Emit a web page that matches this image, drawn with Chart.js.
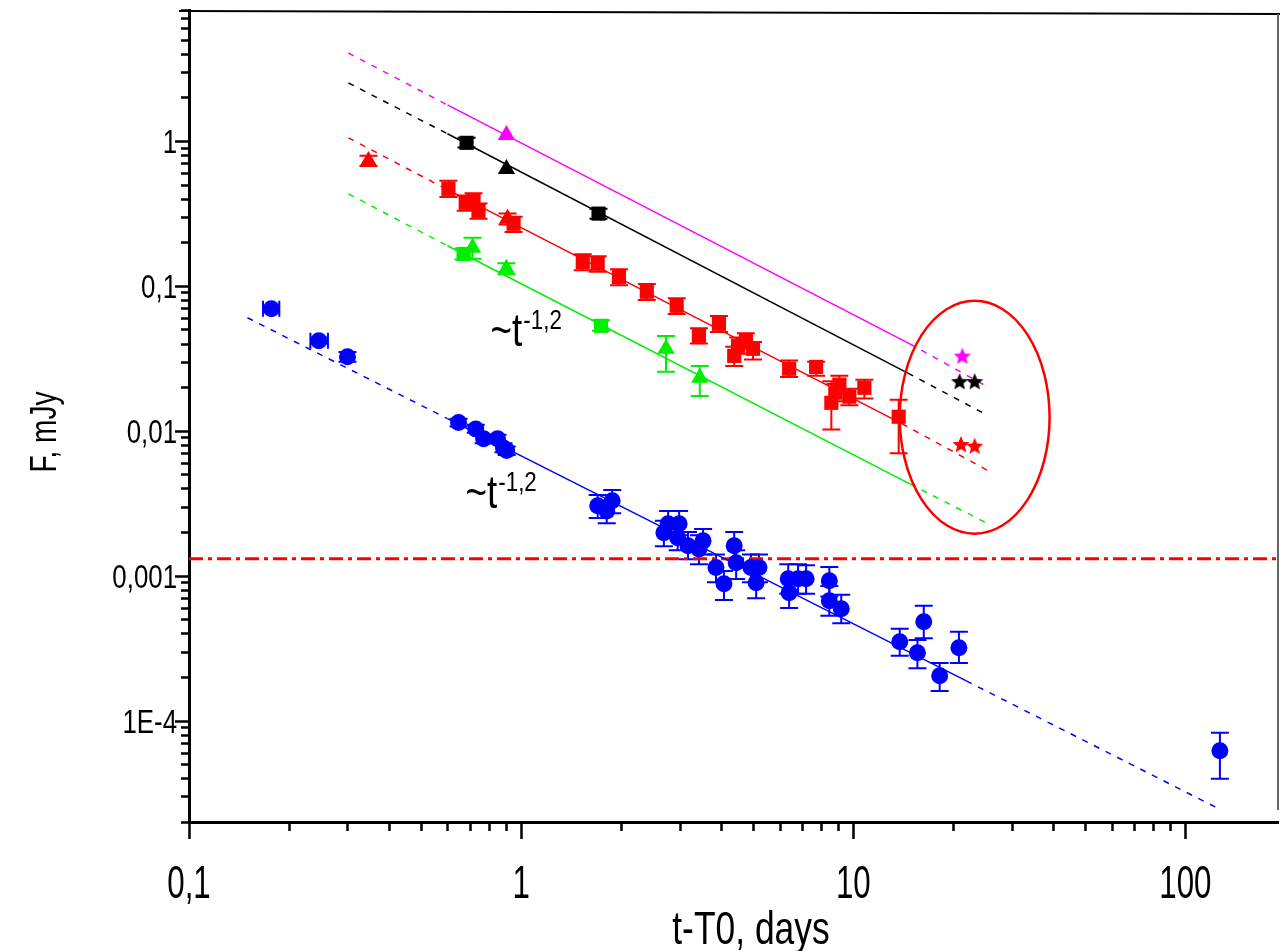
<!DOCTYPE html>
<html>
<head>
<meta charset="utf-8">
<script src="https://cdn.jsdelivr.net/npm/chart.js@4.4.1/dist/chart.umd.min.js"></script>
<style>
	html, body { margin: 0; padding: 0; background: #fff; overflow: hidden; }
	#wrap { width: 1280px; height: 951px; }
</style>
</head>
<body>
<div id="wrap"><canvas id="canvas"></canvas></div>
<script>
// t-T0 in days, F in mJy; lo / hi are the ends of the error bars
const blueX  = [0.177, 0.246, 0.300, 0.648, 0.730, 0.771, 0.849, 0.885, 0.905, 1.70, 1.81, 1.88, 2.69, 2.77, 2.99, 2.96, 3.18, 3.43, 3.53, 3.86, 4.08, 4.38, 4.44, 4.92, 5.10, 5.20, 6.37, 6.41, 6.82, 7.21, 8.47, 8.47, 9.2, 13.8, 15.6, 16.3, 18.2, 20.8, 127];
const blueY  = [0.0694, 0.0418, 0.0324, 0.0114, 0.0103, 0.0088, 0.0088, 0.0076, 0.0073, 0.00304, 0.0028, 0.00329, 0.00198, 0.00228, 0.00228, 0.00183, 0.00161, 0.00153, 0.00174, 0.00114, 0.00088, 0.00161, 0.00123, 0.00114, 0.000895, 0.00114, 0.000953, 0.000764, 0.000953, 0.000953, 0.000924, 0.000673, 0.000592, 0.000351, 0.000294, 0.000482, 0.000204, 0.000319, 0.000062];
const blueLo = [0.066, 0.040, 0.030, 0.0107, 0.0097, 0.0082, 0.0082, 0.0071, 0.0068, 0.0025, 0.0023, 0.0027, 0.0016, 0.0019, 0.0019, 0.0015, 0.0013, 0.0012, 0.0014, 0.0009, 0.00068, 0.0013, 0.00095, 0.0009, 0.0007, 0.0009, 0.00075, 0.0006, 0.00075, 0.00075, 0.00072, 0.00053, 0.00047, 0.00028, 0.00023, 0.00037, 0.00016, 0.00025, 0.0000398];
const blueHi = [0.073, 0.044, 0.035, 0.0121, 0.011, 0.0094, 0.0094, 0.0082, 0.0078, 0.0036, 0.0033, 0.0039, 0.0024, 0.0028, 0.0028, 0.0022, 0.0020, 0.0019, 0.0021, 0.0014, 0.00108, 0.0020, 0.0015, 0.0014, 0.0011, 0.0014, 0.0012, 0.00095, 0.0012, 0.00118, 0.00115, 0.00085, 0.00074, 0.00043, 0.00036, 0.00062, 0.00025, 0.00041, 0.0000826];
const blueXLo = [0.167, 0.232];
const blueXHi = [0.187, 0.262];

const redSqX  = [0.604, 0.681, 0.719, 0.744, 0.949, 1.533, 1.70, 1.97, 2.39, 2.94, 3.43, 3.94, 4.38, 4.5, 4.75, 4.99, 6.41, 7.73, 8.59, 8.83, 9.08, 9.73, 10.8, 13.7];
const redSqY  = [0.467, 0.374, 0.386, 0.329, 0.268, 0.146, 0.142, 0.115, 0.091, 0.0728, 0.0452, 0.0547, 0.0329, 0.0386, 0.0418, 0.0368, 0.0268, 0.0276, 0.0156, 0.0183, 0.0208, 0.0172, 0.0198, 0.0125];
const redSqLo = [0.41, 0.33, 0.34, 0.29, 0.235, 0.128, 0.125, 0.101, 0.080, 0.064, 0.040, 0.048, 0.028, 0.034, 0.037, 0.031, 0.0235, 0.024, 0.0102, 0.016, 0.018, 0.015, 0.0167, 0.0070];
const redSqHi = [0.53, 0.42, 0.435, 0.37, 0.30, 0.165, 0.16, 0.13, 0.103, 0.082, 0.051, 0.062, 0.038, 0.044, 0.047, 0.041, 0.0305, 0.030, 0.022, 0.021, 0.024, 0.0195, 0.0225, 0.0164];
const redTriX = [0.347, 0.91];
const redTriY = [0.728, 0.29];
const redTriLo = [0.67, 0.265];
const redTriHi = [0.79, 0.315];
const redStarX = [21.1, 23.2];
const redStarY = [0.0081, 0.0079];

const greenSqX = [0.671, 1.74];
const greenSqY = [0.166, 0.053];
const greenSqLo = [0.152, 0.049];
const greenSqHi = [0.181, 0.058];
const greenTriX = [0.714, 0.903, 2.73, 3.45];
const greenTriY = [0.183, 0.131, 0.0368, 0.0232];
const greenTriLo = [0.154, 0.12, 0.0255, 0.0174];
const greenTriHi = [0.215, 0.143, 0.045, 0.028];

const blackSqX = [0.685, 1.71];
const blackSqY = [0.97, 0.315];
const blackSqLo = [0.9, 0.29];
const blackSqHi = [1.05, 0.34];
const blackTriX = [0.903];
const blackTriY = [0.64];
const blackStarX = [20.9, 23.2];
const blackStarY = [0.022, 0.022];

const magTriX = [0.903];
const magTriY = [1.1];
const magStarX = [21.3];
const magStarY = [0.033];

// power-law fits: dashed - solid - dashed, break points
const blueFitX = [0.15, 0.6, 21.9, 126];
const blueFitY = [0.0602, 0.01213, 0.000188, 0.0000247];
const redFitX = [0.302, 0.6, 14.0, 25.5];
const redFitY = [1.05, 0.461, 0.0112, 0.0053];
const greenFitX = [0.302, 0.6, 14.8, 25.5];
const greenFitY = [0.431, 0.189, 0.0043, 0.00228];
const blackFitX = [0.302, 0.6, 14.6, 25.2];
const blackFitY = [2.51, 1.12, 0.025, 0.0129];
const magFitX = [0.302, 0.6, 14.8, 24.8];
const magFitY = [4.04, 1.77, 0.0398, 0.0207];

const limitX = [0.1, 190];
const limitY = [0.00131, 0.00131];

const ellipseX = [13.8, 39];
const ellipseY = [0.00195, 0.0788];

const slopeText = ['~t', '-1,2'];
const slopeLabelX = [0.809, 0.680];
const slopeLabelY = [0.0386, 0.00294];

const xMajor = [0.1, 1, 10, 100];
const xTickLabels = ['0,1', '1', '10', '100'];
const yMajor = [0.0001, 0.001, 0.01, 0.1, 1];
const yTickLabels = ['1E-4', '0,001', '0,01', '0,1', '1'];
const xTitle = 't-T0, days';
const yTitle = 'F, mJy';

const FONT = "'Liberation Sans', Arial, sans-serif";

function pts(xs, ys, lo, hi, xlo, xhi) {
	return xs.map((x, i) => {
		const p = { x: x, y: ys[i] };
		if (lo && lo[i] !== undefined) { p.lo = lo[i]; p.hi = hi[i]; }
		if (xlo && xlo[i] !== undefined) { p.xlo = xlo[i]; p.xhi = xhi[i]; }
		return p;
	});
}

function starImage(color, r) {
	const c = document.createElement('canvas');
	const s = Math.ceil(r * 2 + 2);
	c.width = s;
	c.height = s;
	const g = c.getContext('2d');
	g.fillStyle = color;
	g.beginPath();
	for (let i = 0; i < 10; i++) {
		const rr = i % 2 ? r * 0.45 : r;
		const a = -Math.PI / 2 + i * Math.PI / 5;
		g.lineTo(s / 2 + rr * Math.cos(a), s / 2 + 1 + rr * Math.sin(a));
	}
	g.closePath();
	g.fill();
	return c;
}

function markers(data, color, style, radius) {
	return {
		type: 'scatter',
		data: data,
		order: 1,
		errorBars: true,
		errColor: color,
		pointStyle: style,
		pointRadius: radius,
		backgroundColor: color,
		borderColor: color,
		borderWidth: 0
	};
}

function fitLine(xs, ys, color, width, dash) {
	return {
		type: 'line',
		data: pts(xs, ys),
		order: 2,
		showLine: true,
		borderColor: color,
		borderWidth: width,
		pointRadius: 0,
		fill: false,
		borderDash: [],
		segment: {
			borderDash: ctx => (ctx.p0DataIndex === 1 ? [] : dash)
		}
	};
}

function logTicks(min, max) {
	const out = [];
	for (let e = Math.floor(Math.log10(min)); e <= Math.ceil(Math.log10(max)); e++) {
		for (let m = 1; m < 10; m++) {
			const v = +(m * Math.pow(10, e)).toPrecision(6);
			if (v >= min * 0.999 && v <= max * 1.001) out.push(v);
		}
	}
	return out;
}

function isMajor(v) {
	const l = Math.log10(v);
	return Math.abs(l - Math.round(l)) < 1e-6;
}

// the original uses a narrow face, so squeeze Liberation Sans sideways
function squeezedText(ctx, text, x, y, size, sx, align, rot) {
	ctx.save();
	ctx.translate(x, y);
	if (rot) ctx.rotate(rot);
	ctx.scale(sx, 1);
	ctx.font = size + 'px ' + FONT;
	ctx.textAlign = align;
	ctx.textBaseline = 'alphabetic';
	ctx.fillText(text, 0, 0);
	const w = ctx.measureText(text).width * sx;
	ctx.restore();
	return w;
}

const extras = {
	id: 'extras',
	beforeDatasetsDraw(chart) {
		const ctx = chart.ctx, xs = chart.scales.x, ys = chart.scales.y;
		ctx.save();
		ctx.lineWidth = 2;
		chart.data.datasets.forEach(ds => {
			if (!ds.errorBars) return;
			ctx.strokeStyle = ds.errColor;
			ds.data.forEach(p => {
				const px = xs.getPixelForValue(p.x);
				const py = ys.getPixelForValue(p.y);
				ctx.beginPath();
				if (p.lo !== undefined) {
					const t = ys.getPixelForValue(p.hi), b = ys.getPixelForValue(p.lo);
					ctx.moveTo(px, t); ctx.lineTo(px, b);
					ctx.moveTo(px - 9, t); ctx.lineTo(px + 9, t);
					ctx.moveTo(px - 9, b); ctx.lineTo(px + 9, b);
				}
				if (p.xlo !== undefined) {
					const l = xs.getPixelForValue(p.xlo), r = xs.getPixelForValue(p.xhi);
					ctx.moveTo(l, py); ctx.lineTo(r, py);
					ctx.moveTo(l, py - 8); ctx.lineTo(l, py + 8);
					ctx.moveTo(r, py - 8); ctx.lineTo(r, py + 8);
				}
				ctx.stroke();
			});
		});
		ctx.restore();
	},
	afterDraw(chart) {
		const ctx = chart.ctx, xs = chart.scales.x, ys = chart.scales.y;
		const area = chart.chartArea;
		ctx.save();

		// tick marks pointing out of the frame
		ctx.strokeStyle = '#000';
		ctx.lineWidth = 2.5;
		ctx.beginPath();
		xs.ticks.forEach(t => {
			const px = Math.round(xs.getPixelForValue(t.value)) + 0.5;
			const len = isMajor(t.value) ? 17 : 9;
			ctx.moveTo(px, area.bottom); ctx.lineTo(px, area.bottom + len);
		});
		ys.ticks.forEach(t => {
			const py = Math.round(ys.getPixelForValue(t.value)) + 0.5;
			const len = isMajor(t.value) ? 14 : 8;
			ctx.moveTo(area.left - len, py); ctx.lineTo(area.left, py);
		});
		ctx.stroke();

		// tick labels and axis titles
		ctx.fillStyle = '#000';
		xMajor.forEach((v, i) => {
			squeezedText(ctx, xTickLabels[i], xs.getPixelForValue(v), area.bottom + 76, 46, 0.68, 'center');
		});
		yMajor.forEach((v, i) => {
			squeezedText(ctx, yTickLabels[i], area.left - 12, ys.getPixelForValue(v) + 12, 34, 0.76, 'right');
		});
		squeezedText(ctx, xTitle, 751, 944, 46, 0.77, 'center');
		squeezedText(ctx, yTitle, 56, 432, 36, 0.78, 'center', -Math.PI / 2);

		// top and right frame lines
		ctx.strokeStyle = '#000';
		ctx.lineWidth = 2;
		ctx.beginPath();
		ctx.moveTo(area.left - 10, area.top + 1);
		ctx.lineTo(chart.width, area.top + 4);
		ctx.stroke();
		ctx.strokeStyle = '#666';
		ctx.beginPath();
		ctx.moveTo(area.right, area.top + 4);
		ctx.lineTo(area.right, area.bottom - 12);
		ctx.stroke();

		// ellipse round the late points
		const ex0 = xs.getPixelForValue(ellipseX[0]), ex1 = xs.getPixelForValue(ellipseX[1]);
		const ey0 = ys.getPixelForValue(ellipseY[0]), ey1 = ys.getPixelForValue(ellipseY[1]);
		ctx.strokeStyle = '#ff0000';
		ctx.lineWidth = 2.5;
		ctx.beginPath();
		ctx.ellipse((ex0 + ex1) / 2, (ey0 + ey1) / 2, Math.abs(ex1 - ex0) / 2, Math.abs(ey0 - ey1) / 2, 0, 0, Math.PI * 2);
		ctx.stroke();

		// slope labels
		slopeLabelX.forEach((lx, i) => {
			const px = xs.getPixelForValue(lx), py = ys.getPixelForValue(slopeLabelY[i]);
			const w = squeezedText(ctx, slopeText[0], px, py, 46, 0.8, 'left');
			squeezedText(ctx, slopeText[1], px + w + 1, py - 17, 28, 0.8, 'left');
		});
		ctx.restore();
	}
};

const datasets = [
	markers(pts(blueX, blueY, blueLo, blueHi, blueXLo, blueXHi), '#0000ff', 'circle', 8.5),
	markers(pts(redSqX, redSqY, redSqLo, redSqHi), '#ff0000', 'rect', 10),
	markers(pts(redTriX, redTriY, redTriLo, redTriHi), '#ff0000', 'triangle', 10),
	markers(pts(redStarX, redStarY), '#ff0000', starImage('#ff0000', 9), 9),
	markers(pts(greenSqX, greenSqY, greenSqLo, greenSqHi), '#00ee00', 'rect', 10),
	markers(pts(greenTriX, greenTriY, greenTriLo, greenTriHi), '#00ee00', 'triangle', 10),
	markers(pts(blackSqX, blackSqY, blackSqLo, blackSqHi), '#000000', 'rect', 10),
	markers(pts(blackTriX, blackTriY), '#000000', 'triangle', 10),
	markers(pts(blackStarX, blackStarY), '#000000', starImage('#000000', 9), 9),
	markers(pts(magTriX, magTriY), '#ff00ff', 'triangle', 10),
	markers(pts(magStarX, magStarY), '#ff00ff', starImage('#ff00ff', 9), 9),
	fitLine(blueFitX, blueFitY, '#0000ff', 1.5, [6, 7]),
	fitLine(redFitX, redFitY, '#ff0000', 1.5, [6, 7]),
	fitLine(greenFitX, greenFitY, '#00ee00', 1.5, [6, 7]),
	fitLine(blackFitX, blackFitY, '#000000', 1.5, [6, 7]),
	fitLine(magFitX, magFitY, '#ff00ff', 1.5, [6, 7]),
	{
		type: 'line',
		data: pts(limitX, limitY),
		order: 3,
		showLine: true,
		borderColor: '#ff0000',
		borderWidth: 3,
		borderDash: [14, 5, 4, 5],
		pointRadius: 0,
		fill: false
	}
];

new Chart(document.getElementById('canvas'), {
	type: 'scatter',
	data: { datasets: datasets },
	options: {
		responsive: true,
		maintainAspectRatio: false,
		animation: false,
		layout: { autoPadding: false, padding: { top: 10, right: 2, left: 0, bottom: 0 } },
		plugins: {
			legend: { display: false },
			tooltip: { enabled: false }
		},
		scales: {
			x: {
				type: 'logarithmic',
				position: 'bottom',
				min: 0.1,
				max: 190,
				afterBuildTicks: scale => {
					scale.ticks = logTicks(0.1, 190).map(v => ({ value: v, major: isMajor(v) }));
				},
				afterFit: scale => {
					scale.height = 129;
					scale.paddingLeft = 0;
					scale.paddingRight = 0;
				},
				grid: { display: false },
				border: { display: true, color: '#000', width: 3 },
				ticks: { display: false }
			},
			y: {
				type: 'logarithmic',
				position: 'left',
				min: 0.00002,
				max: 8,
				afterBuildTicks: scale => {
					scale.ticks = logTicks(0.00002, 8).map(v => ({ value: v, major: isMajor(v) }));
				},
				afterFit: scale => {
					scale.width = 189;
					scale.paddingTop = 0;
					scale.paddingBottom = 0;
				},
				grid: { display: false },
				border: { display: true, color: '#000', width: 3 },
				ticks: { display: false }
			}
		}
	},
	plugins: [extras]
});
</script>
</body>
</html>
